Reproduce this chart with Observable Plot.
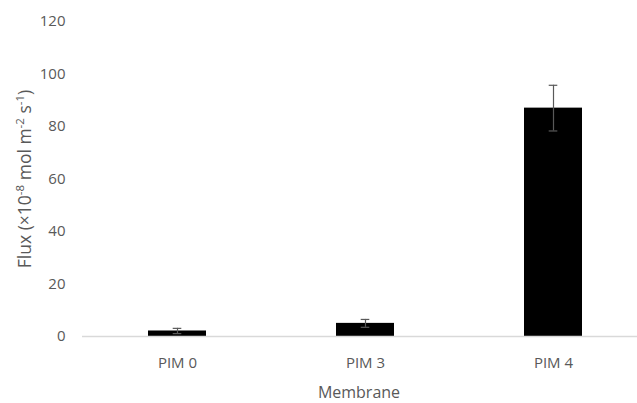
<!DOCTYPE html>
<html>
<head>
<meta charset="utf-8">
<script src="https://cdn.jsdelivr.net/npm/d3@7"></script>
<script src="https://cdn.jsdelivr.net/npm/@observablehq/plot@0.6"></script>
<style>
  html, body { margin: 0; padding: 0; background: #fff; }
  #chart svg { display: block; }
</style>
</head>
<body>
<div id="chart"></div>
<script>
// Permeation flux through each membrane (×10⁻⁸ mol m⁻² s⁻¹) with error
const membranes = ["PIM 0", "PIM 3", "PIM 4"];
const flux = [2.1, 5.0, 87.0];
const fluxError = [1.0, 1.5, 8.7];
const yTicks = [0, 20, 40, 60, 80, 100, 120];

const rows = membranes.map((m, i) => ({
  membrane: m,
  flux: flux[i],
  lo: flux[i] - fluxError[i],
  hi: flux[i] + fluxError[i]
}));

const font = "'Open Sans', Lato, sans-serif";
const grey = "#595959";

const chart = Plot.plot({
  width: 637,
  height: 403,
  marginLeft: 82,
  marginRight: 0,
  marginTop: 21,
  marginBottom: 67,
  style: { fontFamily: font, fontSize: "15px", color: grey, background: "#fff" },
  x: {
    type: "band",
    domain: membranes,
    range: [81.6, 648],
    paddingInner: 0.69,
    paddingOuter: 0.345,
    label: null
  },
  y: { domain: [0, 120], label: null },
  marks: [
    Plot.barY(rows, { x: "membrane", y: "flux", fill: "#000" }),
    Plot.ruleY([0], { stroke: "#d9d9d9", strokeWidth: 1.5 }),
    Plot.ruleX(rows, { x: "membrane", y1: "lo", y2: "hi", stroke: grey, strokeWidth: 1.2 }),
    Plot.tickY(rows, { x: "membrane", y: "lo", stroke: grey, strokeWidth: 1.2, insetLeft: 24.7, insetRight: 24.7 }),
    Plot.tickY(rows, { x: "membrane", y: "hi", stroke: grey, strokeWidth: 1.2, insetLeft: 24.7, insetRight: 24.7 }),
    Plot.axisY({ ticks: yTicks, tickSize: 0, tickPadding: 17, label: null, fill: grey, fontSize: 15 }),
    Plot.axisX({ tickSize: 0, tickPadding: 21, label: null, fill: grey, fontSize: 15 })
  ]
});

document.getElementById("chart").appendChild(chart);

// Axis titles, with real superscripts for the unit of the y axis
const svg = d3.select(chart);
svg.append("text")
  .attr("x", 359)
  .attr("y", 392)
  .attr("dy", "0.35em")
  .attr("text-anchor", "middle")
  .attr("fill", grey)
  .style("font-family", font)
  .style("font-size", "16px")
  .text("Membrane");

const yTitle = svg.append("text")
  .attr("transform", "translate(25,179) rotate(-90)")
  .attr("text-anchor", "middle")
  .attr("dy", "0.35em")
  .attr("fill", grey)
  .style("font-family", font)
  .style("font-size", "17.5px");
const parts = [
  ["Flux (×10", false], ["-8", true], [" mol m", false], ["-2", true],
  [" s", false], ["-1", true], [")", false]
];
for (const [t, sup] of parts) {
  const ts = yTitle.append("tspan").text(t);
  if (sup) ts.attr("baseline-shift", "super").style("font-size", "11.5px");
}
</script>
</body>
</html>
